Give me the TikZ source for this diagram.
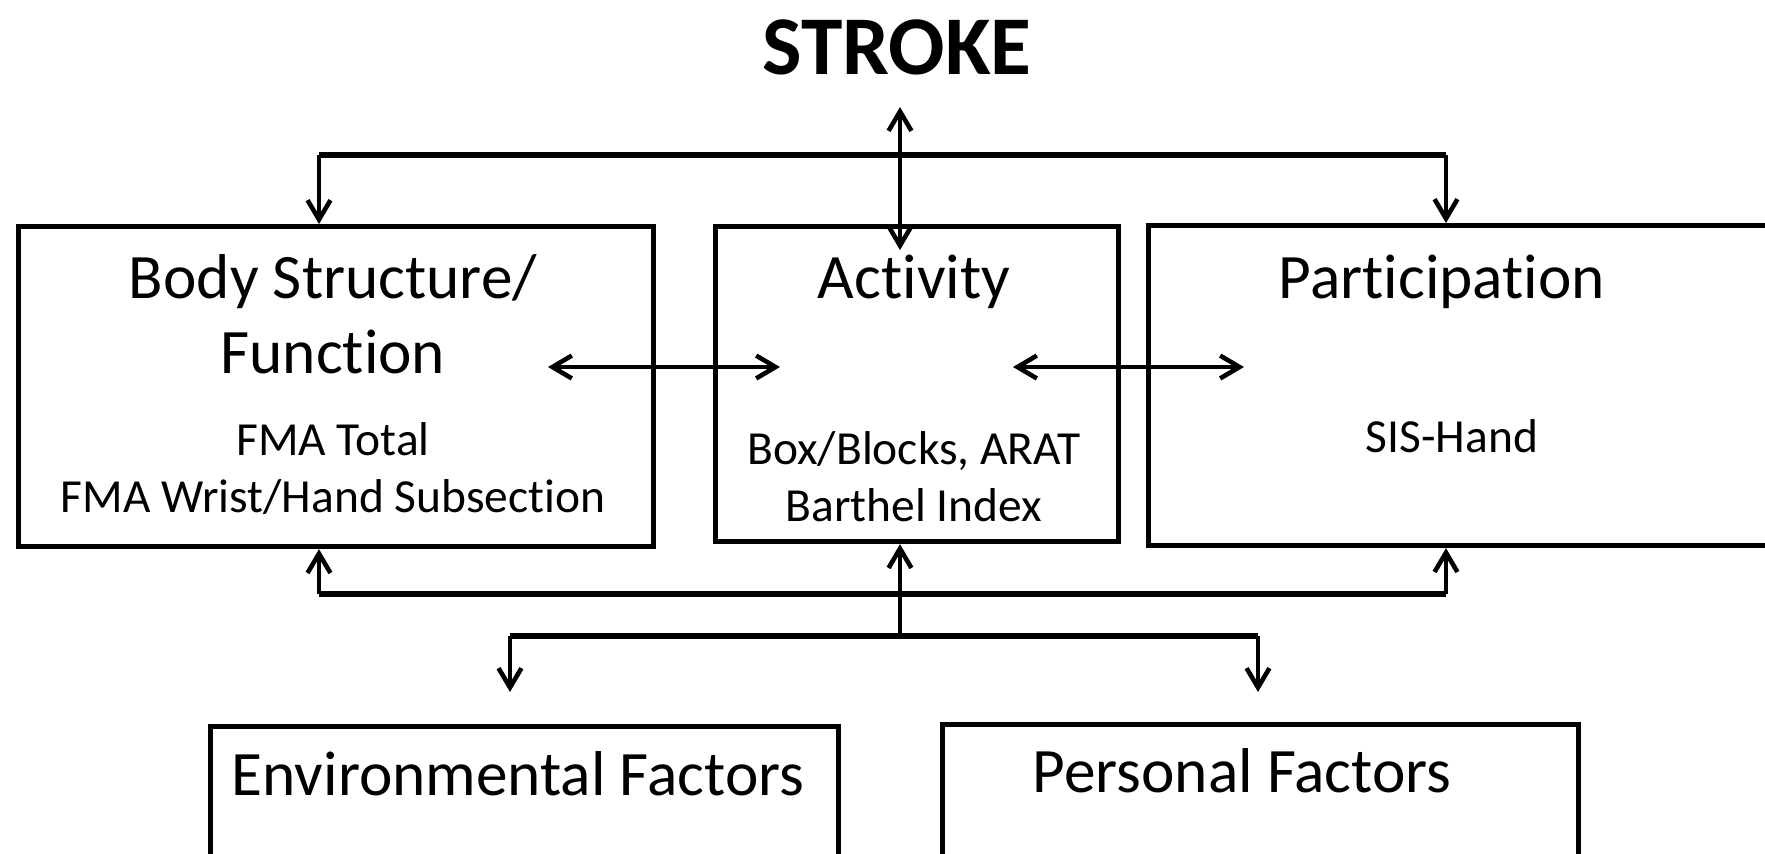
\documentclass[tikz,border=0pt]{standalone}
\usepackage{fontspec}
\setmainfont{Carlito}
\usetikzlibrary{arrows.meta}
\newcommand{\nolig}{\kern0pt }

\begin{document}
\begin{tikzpicture}[x=0.01cm,y=-0.01cm,
    box/.style={draw,line width=1.4pt,inner sep=0pt,anchor=north west},
    big/.style={anchor=base,font=\fontsize{23.75}{28}\selectfont\bfseries},
    head/.style={anchor=base,align=center,font=\fontsize{18}{21.3}\selectfont},
    sub/.style={anchor=base,align=center,font=\fontsize{13.5}{16}\selectfont},
    link/.style={line width=1.3pt,-{Straight Barb[length=5.5pt,width=6.5pt]}},
    twoway/.style={line width=1.3pt,{Straight Barb[length=5.5pt,width=6.5pt]}-{Straight Barb[length=5.5pt,width=6.5pt]}},
    bus/.style={line width=1.9pt}]
  \useasboundingbox (0,0) rectangle (1765,853);
  \clip (0,0) rectangle (1765,853);

  % boxes
  \node[box,minimum width=6.35cm,minimum height=3.2cm]  (body) at (16,224)   {};
  \node[box,minimum width=4.03cm,minimum height=3.15cm] (act)  at (713,224)  {};
  \node[box,minimum width=6.6cm,minimum height=3.2cm]   (part) at (1146,223) {};
  \node[box,minimum width=6.28cm,minimum height=3cm]    (env)  at (208,724)  {};
  \node[box,minimum width=6.36cm,minimum height=3cm]    (pers) at (940,722)  {};

  % texts (base = last line)
  \node[big]  (stroke) at (897,74)   {STROKE};
  \node[head] (bodyhd) at (333,373)  {Body Structure/\\Funct\nolig ion};
  \node[sub]  (bodyms) at (333,512)  {FMA Total\\FMA Wrist/Hand Subsect\nolig ion};
  \node[head] (acthd)  at (914,298)  {Act\nolig ivity};
  \node[sub]  (actms)  at (914,521)  {Box/Blocks, ARAT\\Barthel Index};
  \node[head] (parthd) at (1442,298) {Part\nolig icipat\nolig ion};
  \node[sub]  (partms) at (1452,452) {SIS-Hand};
  \node[head] (envhd)  at (518,795)  {Environmental Factors};
  \node[head] (pershd) at (1242,792) {Personal Factors};

  % connector points
  \coordinate (topL)  at (319,155);
  \coordinate (topR)  at (1446,155);
  \coordinate (strk)  at (900,107);
  \coordinate (actT)  at (900,250);
  \coordinate (bodyR) at (548,367);
  \coordinate (actL)  at (780,367);
  \coordinate (actR)  at (1013,367);
  \coordinate (partL) at (1244,367);
  \coordinate (botL)  at (319,594);
  \coordinate (botR)  at (1446,594);
  \coordinate (facM)  at (900,636);
  \coordinate (facL)  at (510,636);
  \coordinate (facR)  at (1258,636);
  \coordinate (envT)  at (510,692);
  \coordinate (persT) at (1258,692);

  % top
  \draw[bus] (topL) -- (topR);
  \draw[link] (topL) -- (body.north -| topL);
  \draw[link] (topR) -- (part.north -| topR);
  \draw[twoway] (strk) -- (actT);

  % middle
  \draw[twoway] (bodyR) -- (actL);
  \draw[twoway] (actR) -- (partL);

  % bottom
  \draw[bus] (botL) -- (botR);
  \draw[link] (botL) -- (body.south -| botL);
  \draw[link] (botR) -- (part.south -| botR);
  \draw[link] (facM) -- (act.south -| facM);
  \draw[bus] (facL) -- (facR);
  \draw[link] (facL) -- (envT);
  \draw[link] (facR) -- (persT);
\end{tikzpicture}
\end{document}
